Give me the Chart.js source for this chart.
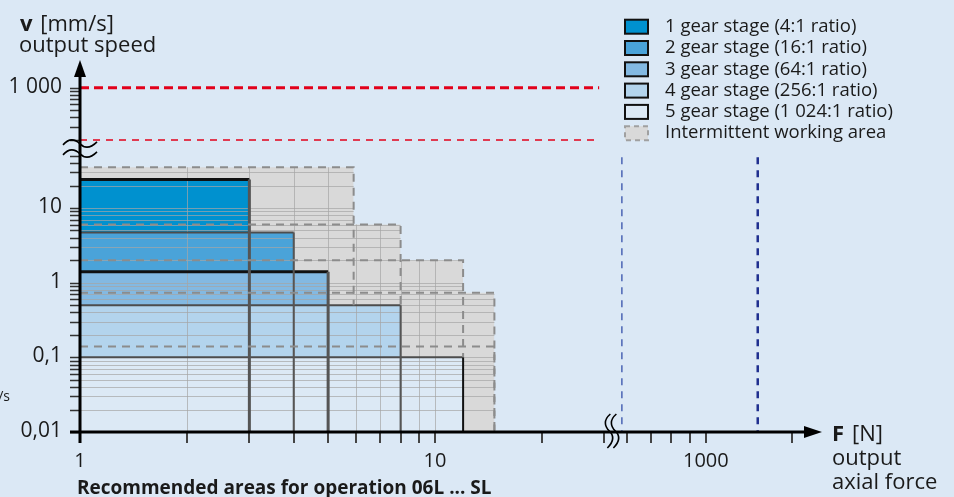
<!DOCTYPE html>
<html>
<head>
<meta charset="utf-8">
<script src="https://cdn.jsdelivr.net/npm/chart.js@4.4.1/dist/chart.umd.min.js"></script>
<style>
  html, body { margin: 0; padding: 0; background: #dbe8f5; }
  canvas { display: block; }
</style>
</head>
<body>
<canvas id="grafico" width="954" height="497"></canvas>
<script>
// etapas del reductor (leyenda)
const ETAPAS = [
  "1 gear stage (4:1 ratio)",
  "2 gear stage (16:1 ratio)",
  "3 gear stage (64:1 ratio)",
  "4 gear stage (256:1 ratio)",
  "5 gear stage (1 024:1 ratio)",
];
const ETIQUETA_INTERMITENTE = "Intermittent working area";

// area continua: fuerza max [N] y velocidad max [mm/s] por etapa
const fuerzaCont = [3, 4, 5, 8, 12];
const velCont = [24, 4.7, 1.4, 0.5, 0.1];

// area de trabajo intermitente por etapa
const fuerzaInt = [5.9, 8, 12, 14.7, 14.7];
const velInt = [35, 6, 2, 0.73, 0.14];

// lineas limite
const velLimite = [1000, 200];
const fuerzaLimiteFin = 29;
const fuerzaLimite = [580, 1400];
const velLimiteVertical = 48;

// marcas de los ejes
const ticksY = [
  0.01, 0.02, 0.03, 0.04, 0.05, 0.06, 0.07, 0.08, 0.09,
  0.1, 0.2, 0.3, 0.4, 0.5, 0.6, 0.7, 0.8, 0.9,
  1, 2, 3, 4, 5, 6, 7, 8, 9,
  10, 20, 30, 40, 50,
  200, 300, 400, 500, 600, 700, 800, 900, 1000,
];
const ticksX = [1, 2, 3, 4, 5, 6, 7, 8, 9, 10, 20, 30, 600, 700, 800, 900, 1000, 1750];
const valoresEtiquetaY = [0.01, 0.1, 1, 10, 1000];
const textosEtiquetaY = ["0,01", "0,1", "1", "10", "1 000"];
const valoresEtiquetaX = [1, 10, 1000];
const textosEtiquetaX = ["1", "10", "1000"];

//colores
const COLORES_ETAPA = ["#0091cf", "#4aa3d9", "#83b9e2", "#b3d4ed", "#dce9f5"];
const BORDE_SUP = ["#111111", "#4d4d4d", "#111111", "#4d4d4d", "#4d4d4d"];
const ANCHO_SUP = [3, 2, 3, 2, 2];
const BORDE_DER = ["#555555", "#555555", "#555555", "#555555", "#111111"];
const GRIS_INT = "#d9d9d9";
const GRIS_TRAZO = "#8c8c8c";
const FUENTE = "'Open Sans', 'Noto Sans', sans-serif";

// escala logaritmica con corte (los ejes saltan de 50 a 200 y de 30 a 600)
const CORTES = {
  x: { en: 100, salto: 1.237, limite: 1.6 },
  y: { en: 100, salto: 0.39, limite: 1.8 },
};

class EscalaCortada extends Chart.LinearScale {
  _t(v) {
    const c = CORTES[this.axis];
    return Math.log10(v) - (v > c.en ? c.salto : 0);
  }
  getPixelForValue(v) {
    const a = this._t(this.min);
    const b = this._t(this.max);
    return this.getPixelForDecimal((this._t(v) - a) / (b - a));
  }
  getValueForPixel(p) {
    const c = CORTES[this.axis];
    const a = this._t(this.min);
    const b = this._t(this.max);
    const t = a + this.getDecimalForPixel(p) * (b - a);
    return t < c.limite ? Math.pow(10, t) : Math.pow(10, t + c.salto);
  }
}
EscalaCortada.id = "cortada";
EscalaCortada.defaults = {};
Chart.register(EscalaCortada);

const rectangulo = (f, v) => [
  { x: 1, y: v },
  { x: f, y: v },
  { x: f, y: 0.01 },
];

// donde termina el borde derecho del area intermitente (tapado por el area continua)
const finBorde = (f) =>
  Math.max(0.01, ...fuerzaCont.map((fc, i) => (fc >= f ? velCont[i] : 0.01)));

const datasets = [];

fuerzaInt.forEach((f, i) => {
  datasets.push({
    label: "int " + i,
    data: rectangulo(f, velInt[i]),
    borderWidth: 0,
    backgroundColor: GRIS_INT,
    fill: { value: 0.01 },
    order: 100,
  });
});

fuerzaCont.forEach((f, i) => {
  datasets.push({
    label: ETAPAS[i],
    data: rectangulo(f, velCont[i]),
    borderWidth: 0,
    backgroundColor: COLORES_ETAPA[i],
    fill: { value: 0.01 },
    order: 90 - i,
  });
});

fuerzaCont.forEach((f, i) => {
  datasets.push({
    label: "borde " + i,
    capa: "borde",
    data: rectangulo(f, velCont[i]),
    fill: false,
    borderWidth: ANCHO_SUP[i],
    borderColor: BORDE_SUP[i],
    segment: {
      borderColor: (ctx) => (ctx.p0DataIndex === 0 ? BORDE_SUP[i] : BORDE_DER[i]),
    },
    order: 50,
  });
});

fuerzaInt.forEach((f, i) => {
  datasets.push({
    label: "int borde " + i,
    data: [
      { x: 1, y: velInt[i] },
      { x: f, y: velInt[i] },
      { x: f, y: finBorde(f) },
    ],
    fill: false,
    borderWidth: 2,
    borderColor: GRIS_TRAZO,
    borderDash: [8, 6],
    order: 40,
  });
});

velLimite.forEach((v, i) => {
  datasets.push({
    label: "limite " + v,
    data: [
      { x: 1, y: v },
      { x: fuerzaLimiteFin, y: v },
    ],
    fill: false,
    borderWidth: i === 0 ? 3 : 1.5,
    borderColor: "#e2001a",
    borderDash: i === 0 ? [9, 5] : [7, 6],
    order: 30,
  });
});

fuerzaLimite.forEach((f, i) => {
  datasets.push({
    label: "limite " + f,
    data: [
      { x: f, y: velLimiteVertical },
      { x: f, y: 0.01 },
    ],
    fill: false,
    borderWidth: i === 0 ? 1.5 : 2.5,
    borderColor: i === 0 ? "#4a64b4" : "#1f2f8f",
    borderDash: [7, 6],
    order: 30,
  });
});

const px = (c, v) => c.scales.x.getPixelForValue(v);
const py = (c, v) => c.scales.y.getPixelForValue(v);

const dibujarRejilla = (chart) => {
  const ctx = chart.ctx;
  const area = chart.chartArea;
  ctx.save();
  ctx.beginPath();
  fuerzaInt.forEach((f, i) => {
    const x0 = px(chart, 1);
    const y0 = py(chart, velInt[i]);
    ctx.rect(x0, y0, px(chart, f) - x0, py(chart, 0.01) - y0);
  });
  ctx.clip();
  ctx.strokeStyle = "rgba(165,165,165,0.7)";
  ctx.lineWidth = 1;
  ctx.beginPath();
  ticksX
    .filter((v) => v > 1 && v <= 10)
    .forEach((v) => {
      const x = Math.round(px(chart, v)) + 0.5;
      ctx.moveTo(x, area.top);
      ctx.lineTo(x, area.bottom);
    });
  ticksY
    .filter((v) => v > 0.01 && v < 100)
    .forEach((v) => {
      const y = Math.round(py(chart, v)) + 0.5;
      ctx.moveTo(area.left, y);
      ctx.lineTo(area.right, y);
    });
  ctx.stroke();
  ctx.restore();
};

const onda = (ctx, x0, y0, horizontal) => {
  ctx.beginPath();
  if (horizontal) {
    ctx.moveTo(x0, y0 + 2);
    ctx.bezierCurveTo(x0 + 6, y0 - 5, x0 + 12, y0 - 4, x0 + 17, y0 + 1);
    ctx.bezierCurveTo(x0 + 22, y0 + 6, x0 + 28, y0 + 5, x0 + 34, y0 - 1);
  } else {
    ctx.moveTo(x0 + 2, y0);
    ctx.bezierCurveTo(x0 - 5, y0 + 6, x0 - 4, y0 + 12, x0 + 1, y0 + 17);
    ctx.bezierCurveTo(x0 + 6, y0 + 22, x0 + 5, y0 + 28, x0 - 1, y0 + 34);
  }
  ctx.stroke();
};

const texto = (ctx, t, x, y, font, align) => {
  ctx.font = font;
  ctx.textAlign = align || "left";
  ctx.fillText(t, x, y);
};

let rejillaHecha = false;

const pluginDibujo = {
  id: "dibujo",
  beforeDatasetsDraw() {
    rejillaHecha = false;
  },
  beforeDatasetDraw(chart, args) {
    const ds = chart.data.datasets[args.index];
    if (ds.capa === "borde" && !rejillaHecha) {
      dibujarRejilla(chart);
      rejillaHecha = true;
    }
  },
  afterDraw(chart) {
    const ctx = chart.ctx;
    const area = chart.chartArea;
    const x0 = px(chart, 1);
    const y0 = py(chart, 0.01);
    ctx.save();

    // marcas eje y
    ctx.lineWidth = 1.5;
    ctx.strokeStyle = "#333";
    ctx.beginPath();
    ticksY.forEach((v) => {
      const y = Math.round(py(chart, v)) + 0.5;
      ctx.moveTo(x0 - 10, y);
      ctx.lineTo(x0, y);
    });
    ctx.stroke();

    // marcas eje x
    ctx.lineWidth = 2;
    ctx.strokeStyle = "#444";
    ctx.beginPath();
    ticksX.forEach((v) => {
      const x = Math.round(px(chart, v));
      ctx.moveTo(x, y0);
      ctx.lineTo(x, y0 + 11);
    });
    ctx.stroke();

    // ejes con flecha
    ctx.strokeStyle = "#000";
    ctx.fillStyle = "#000";
    ctx.lineWidth = 3;
    ctx.beginPath();
    ctx.moveTo(x0, y0 + 11);
    ctx.lineTo(x0, area.top + 14);
    ctx.moveTo(x0 - 10, y0);
    ctx.lineTo(area.right - 16, y0);
    ctx.stroke();
    ctx.beginPath();
    ctx.moveTo(x0, area.top);
    ctx.lineTo(x0 - 6, area.top + 17);
    ctx.lineTo(x0 + 6, area.top + 17);
    ctx.closePath();
    ctx.fill();
    ctx.beginPath();
    ctx.moveTo(area.right, y0);
    ctx.lineTo(area.right - 18, y0 - 6);
    ctx.lineTo(area.right - 18, y0 + 6);
    ctx.closePath();
    ctx.fill();

    // cortes de eje
    ctx.lineWidth = 1.6;
    const yc = (py(chart, 50) + py(chart, 200)) / 2;
    onda(ctx, x0 - 17, yc - 5, true);
    onda(ctx, x0 - 17, yc + 5, true);
    const xc = px(chart, 30);
    onda(ctx, xc + 4, y0 - 18, false);
    onda(ctx, xc + 10, y0 - 18, false);

    // etiquetas
    ctx.fillStyle = "#1a1a1a";
    ctx.textBaseline = "middle";
    valoresEtiquetaY.forEach((v, i) => {
      texto(ctx, textosEtiquetaY[i], x0 - 18, py(chart, v) - 1, "21px " + FUENTE, "right");
    });
    valoresEtiquetaX.forEach((v, i) => {
      texto(ctx, textosEtiquetaX[i], px(chart, v), y0 + 29, "20px " + FUENTE, "center");
    });

    // titulos de ejes
    ctx.textBaseline = "alphabetic";
    texto(ctx, "v", 20, 31, "bold 22px " + FUENTE);
    texto(ctx, "[mm/s]", 20 + ctx.measureText("v ").width + 2, 31, "22px " + FUENTE);
    texto(ctx, "output speed", 19, 52, "22px " + FUENTE);
    texto(ctx, "F", 832, 441, "bold 22px " + FUENTE);
    texto(ctx, "[N]", 832 + 20, 441, "22px " + FUENTE);
    texto(ctx, "output", 832, 465, "22px " + FUENTE);
    texto(ctx, "axial force", 832, 489, "22px " + FUENTE);
    texto(ctx, "mm/s", 10, 401, "14px " + FUENTE, "right");
    texto(ctx, "Recommended areas for operation 06L ... SL", 77, 494, "bold 19px " + FUENTE);

    // leyenda
    const filas = ETAPAS.concat([ETIQUETA_INTERMITENTE]);
    ctx.textBaseline = "middle";
    filas.forEach((t, i) => {
      const yf = 26.7 + i * 21.3;
      ctx.fillStyle = i < ETAPAS.length ? COLORES_ETAPA[i] : GRIS_INT;
      ctx.fillRect(625, yf - 7, 23, 14);
      ctx.lineWidth = 2;
      if (i < ETAPAS.length) {
        ctx.strokeStyle = "#111";
        ctx.setLineDash([]);
      } else {
        ctx.strokeStyle = "#a0a0a0";
        ctx.setLineDash([5, 4]);
      }
      ctx.strokeRect(625, yf - 7, 23, 14);
      ctx.setLineDash([]);
      ctx.fillStyle = "#1a1a1a";
      texto(ctx, t, 665, yf, "18.5px " + FUENTE);
    });
    ctx.restore();
  },
};

new Chart(document.getElementById("grafico"), {
  type: "line",
  data: { datasets },
  options: {
    responsive: false,
    animation: false,
    events: [],
    layout: { padding: { left: 80, right: 132, top: 60, bottom: 65 } },
    scales: {
      x: { type: "cortada", min: 1, max: 2124, display: false, bounds: "data" },
      y: { type: "cortada", min: 0.01, max: 2355, display: false, bounds: "data" },
    },
    elements: {
      point: { radius: 0, hoverRadius: 0 },
      line: { tension: 0, borderCapStyle: "butt" },
    },
    plugins: {
      legend: { display: false },
      tooltip: { enabled: false },
    },
  },
  plugins: [pluginDibujo],
});
</script>
</body>
</html>
